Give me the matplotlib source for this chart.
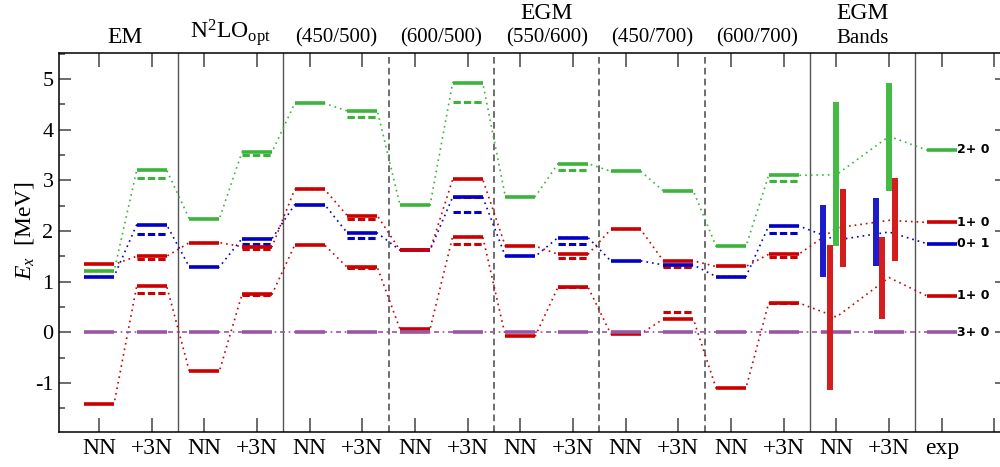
import numpy as np
import matplotlib
matplotlib.use('Agg')
import matplotlib.pyplot as plt

plt.rcParams['font.family'] = ['Liberation Serif', 'DejaVu Serif']
plt.rcParams['mathtext.fontset'] = 'custom'
plt.rcParams['mathtext.rm'] = 'Liberation Serif'
plt.rcParams['mathtext.it'] = 'Liberation Serif:italic'

nan = np.nan

# ---------------- data ----------------
column_labels = ['NN', '+3N'] * 8 + ['exp']
group_titles = ['EM', r'N$^2$LO$_{\rm opt}$', '(450/500)', '(600/500)',
                '(550/600)', '(450/700)', '(600/700)', 'Bands']
group_supertitles = ['', '', '', '', 'EGM', '', '', 'EGM']
solid_separators = [1.5, 3.5, 13.5, 15.5]
dashed_separators = [5.5, 7.5, 9.5, 11.5]

# levels per column (cols 14,15 = band midpoints, col 16 = experiment)
green = [1.20, 3.20, 2.24, 3.56, 4.52, 4.37, 2.51, 4.93, 2.68, 3.33,
         3.18, 2.79, 1.70, 3.10, 3.11, 3.87, 3.60]
green_dash = [nan, 3.04, nan, 3.50, nan, 4.25, nan, 4.54, nan, 3.20,
              nan, nan, nan, 2.98, nan, nan, nan]
blue = [1.10, 2.12, 1.29, 1.85, 2.52, 1.96, 1.62, 2.67, 1.50, 1.87,
        1.41, 1.33, 1.10, 2.10, 1.82, 1.98, 1.75]
blue_dash = [nan, 1.95, nan, 1.74, nan, 1.87, nan, 2.38, nan, 1.74,
             nan, 1.30, nan, 1.97, nan, nan, nan]
red_up = [1.34, 1.50, 1.77, 1.69, 2.82, 2.30, 1.62, 3.02, 1.70, 1.54,
          2.03, 1.41, 1.30, 1.54, 2.06, 2.21, 2.17]
red_up_dash = [nan, 1.44, nan, 1.64, nan, 2.24, nan, 2.67, nan, 1.47,
               nan, 1.28, nan, 1.49, nan, nan, nan]
red_lo = [-1.42, 0.91, -0.77, 0.75, 1.72, 1.28, 0.06, 1.89, -0.07, 0.89,
          -0.03, 0.26, -1.10, 0.58, 0.30, 1.08, 0.72]
red_lo_dash = [nan, 0.78, nan, 0.74, nan, 1.27, nan, 1.74, nan, 0.89,
               nan, 0.39, nan, 0.57, nan, nan, nan]
purple = [0.0] * 17

# EGM bands (low, high) for NN (col 14) and +3N (col 15)
band_cols = [14, 15]
band_blue = [(1.09, 2.52), (1.31, 2.66)]
band_red_lo = [(-1.14, 1.72), (0.26, 1.89)]
band_green = [(1.70, 4.54), (2.79, 4.93)]
band_red_up = [(1.29, 2.82), (1.41, 3.04)]

exp_labels = ['2+ 0', '1+ 0', '0+ 1', '1+ 0', '3+ 0']
exp_values = [green[16], red_up[16], blue[16], red_lo[16], purple[16]]

# ---------------- style ----------------
C_GREEN = '#3cb43c'
C_BLUE = '#0000c8'
C_RED = '#cc0000'
C_PURPLE = '#9b55a5'
CB_GREEN = '#44bb44'
CB_BLUE = '#1c1ccc'
CB_RED = '#d41e1e'

fig = plt.figure(figsize=(10, 4.67), dpi=100)
ax = fig.add_axes([0.059, 0.075, 0.948, 0.812])

hw = 0.285


def draw_state(vals, color, connect_ls):
    vals = np.asarray(vals, float)
    xs, ys = [], []
    for i, v in enumerate(vals):
        h = 0.0 if i in band_cols else hw
        xs += [i - h, i + h]
        ys += [v, v]
    ax.plot(xs, ys, color=color, lw=1.2, ls=connect_ls, zorder=2)


def draw_bars(vals, dvals, color, skip=()):
    for i, v in enumerate(dvals):
        if not np.isnan(v):
            ax.hlines(v, i - hw, i + hw, colors=color, lw=2.2,
                      linestyles=(0, (2.4, 1.0)), zorder=3)
    for i, v in enumerate(vals):
        if i in skip:
            continue
        ax.hlines(v, i - hw, i + hw, colors=color, lw=2.6, zorder=4)


dot_ls = (0, (1.0, 2.4))
states = [
    (green, green_dash, C_GREEN, dot_ls, band_cols),
    (blue, blue_dash, C_BLUE, dot_ls, band_cols),
    (red_up, red_up_dash, C_RED, dot_ls, band_cols),
    (red_lo, red_lo_dash, C_RED, dot_ls, band_cols),
    (purple, [nan] * 17, C_PURPLE, (0, (3, 2.2, 1, 2.2)), ()),
]
for vals, dvals, col, ls, skip in states:
    draw_state(vals, col, ls)
for vals, dvals, col, ls, skip in states:
    draw_bars(vals, dvals, col, skip)

# bands
bw = 0.115
for k, c in enumerate(band_cols):
    for off, (lo, hi), col in [(-0.25, band_blue[k], CB_BLUE),
                               (-0.125, band_red_lo[k], CB_RED),
                               (0.0, band_green[k], CB_GREEN),
                               (0.12, band_red_up[k], CB_RED)]:
        ax.bar(c + off, hi - lo, bottom=lo, width=bw, color=col,
               zorder=5, linewidth=0)

# separators
for s in solid_separators:
    ax.axvline(s, color='#555555', lw=1.0, zorder=1)
for s in dashed_separators:
    ax.axvline(s, color='#555555', lw=1.2, ls=(0, (4, 2.5)), zorder=1)

# experimental labels
for lab, v in zip(exp_labels, exp_values):
    ax.text(16.3, v, lab, fontsize=9, fontweight='bold',
            family='DejaVu Sans', va='center', ha='left', zorder=6)

# axes
ax.set_xlim(-0.76, 17.24)
ax.set_ylim(-1.97, 5.52)
ax.set_xticks(np.arange(18))
ax.set_xticklabels(column_labels + [''], fontsize=17)
ax.set_yticks(np.arange(-1, 6))
ax.set_yticklabels([str(v) for v in range(-1, 6)], fontsize=16)
ax.set_yticks(np.arange(-1.5, 5.6, 1.0), minor=True)
ax.tick_params(axis='both', which='both', direction='in', top=True,
               right=True, color='#444444', width=1.1)
ax.tick_params(axis='x', which='major', length=10, pad=4)
ax.tick_params(axis='y', which='major', length=8.5, pad=4)
ax.tick_params(axis='y', which='minor', length=4.5)
for sp in ax.spines.values():
    sp.set_linewidth(1.1)
ax.set_ylabel(r'$E_x$  [MeV]', fontsize=17)
ax.yaxis.set_label_coords(-0.024, 0.53)

# group titles
for g, (t, st) in enumerate(zip(group_titles, group_supertitles)):
    xc = 2 * g + 0.5
    small = t.startswith('(') or t == 'Bands'
    ax.annotate(t, xy=(xc, 1.0), xycoords=('data', 'axes fraction'),
                xytext=(0, 3.5), textcoords='offset points',
                ha='center', va='bottom', fontsize=15 if small else 17,
                annotation_clip=False)
    if st:
        ax.annotate(st, xy=(xc, 1.0), xycoords=('data', 'axes fraction'),
                    xytext=(0, 20.5), textcoords='offset points',
                    ha='center', va='bottom', fontsize=17,
                    annotation_clip=False)

fig.savefig('out.png', dpi=100)
